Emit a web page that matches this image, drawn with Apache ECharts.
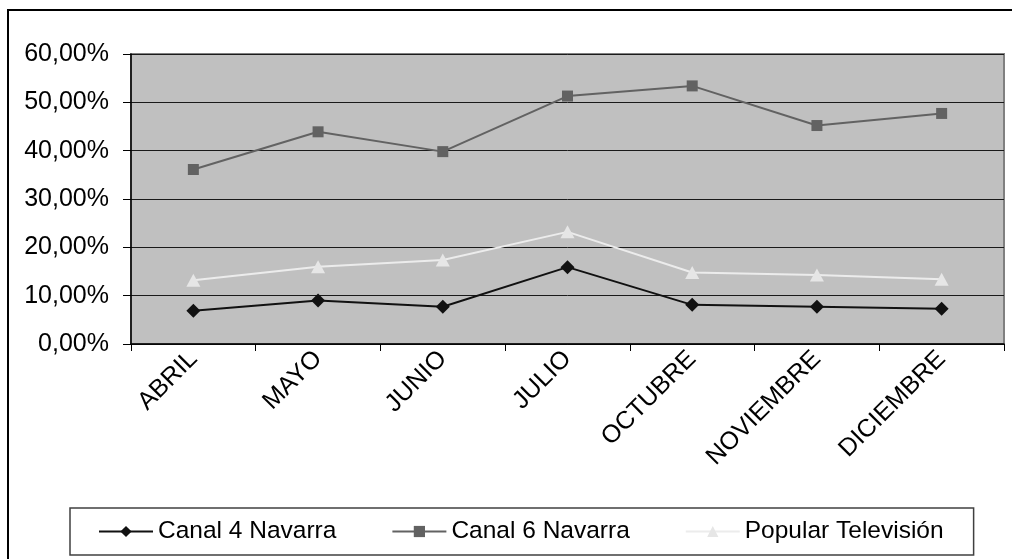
<!DOCTYPE html>
<html>
<head>
<meta charset="utf-8">
<script src="https://cdn.jsdelivr.net/npm/echarts@6/dist/echarts.min.js"></script>
<style>
html,body{margin:0;padding:0;background:#fff;}
#c{width:1012px;height:559px;}
</style>
</head>
<body>
<div id="c"></div>
<script>
var categories = ['ABRIL','MAYO','JUNIO','JULIO','OCTUBRE','NOVIEMBRE','DICIEMBRE'];
var canal4 = [6.9, 9.0, 7.7, 15.9, 8.1, 7.7, 7.3];
var canal6 = [36.1, 43.9, 39.8, 51.3, 53.4, 45.2, 47.7];
var popular = [13.2, 16.0, 17.4, 23.2, 14.8, 14.3, 13.4];
var seriesNames = ['Canal 4 Navarra','Canal 6 Navarra','Popular Televisión'];
var yTicks = [0, 10, 20, 30, 40, 50, 60];

var FONT = "'Liberation Sans', Arial, sans-serif";
var chart = echarts.init(document.getElementById('c'), null, {renderer:'canvas'});
chart.setOption({
  backgroundColor: '#ffffff',
  animation: false,
  textStyle: {fontFamily: FONT},
  grid: {
    left: 131, top: 54, right: 8, bottom: 215,
    show: true, backgroundColor: '#c0c0c0', borderColor: '#808080', borderWidth: 2,
    containLabel: false
  },
  legend: {
    left: 70, top: 508,
    padding: [11, 30, 11, 28],
    itemGap: 55,
    itemWidth: 54, itemHeight: 14,
    borderColor: '#404040', borderWidth: 1.5,
    textStyle: {fontFamily: FONT, fontSize: 24.5, color: '#000'},
    data: seriesNames
  },
  xAxis: {
    type: 'category',
    data: categories,
    boundaryGap: true,
    axisLine: {lineStyle: {color: '#000', width: 1.5}},
    axisTick: {show: true, length: 7, lineStyle: {color: '#000', width: 1}},
    axisLabel: {rotate: 45, margin: 11, fontFamily: FONT, fontSize: 25, color: '#000', interval: 0}
  },
  yAxis: {
    type: 'value',
    min: yTicks[0], max: yTicks[yTicks.length-1], interval: 10,
    axisLine: {show: true, lineStyle: {color: '#000', width: 1.5}},
    axisTick: {show: true, length: 8, lineStyle: {color: '#000', width: 1}},
    axisLabel: {margin: 22, fontFamily: FONT, fontSize: 25, color: '#000',
      formatter: function(v){ return v.toFixed(2).replace('.', ',') + '%'; }},
    splitLine: {show: true, lineStyle: {color: '#1a1a1a', width: 1}}
  },
  series: [
    {name: seriesNames[0], type: 'line', data: canal4, symbol: 'diamond', symbolSize: [14, 14],
      itemStyle: {color: '#111111'}, lineStyle: {color: '#111111', width: 2}, z: 4},
    {name: seriesNames[1], type: 'line', data: canal6, symbol: 'rect', symbolSize: 11,
      itemStyle: {color: '#626262'}, lineStyle: {color: '#626262', width: 2}, z: 3},
    {name: seriesNames[2], type: 'line', data: popular, symbol: 'triangle', symbolSize: [14, 13],
      itemStyle: {color: '#e6e6e6'}, lineStyle: {color: '#ececec', width: 2}, z: 3}
  ],
  graphic: [
    {type: 'line', shape: {x1: 8, y1: 9, x2: 8, y2: 559}, style: {stroke: '#000', lineWidth: 2}},
    {type: 'line', shape: {x1: 7, y1: 10, x2: 1012, y2: 10}, style: {stroke: '#000', lineWidth: 2}}
  ]
});
</script>
</body>
</html>
